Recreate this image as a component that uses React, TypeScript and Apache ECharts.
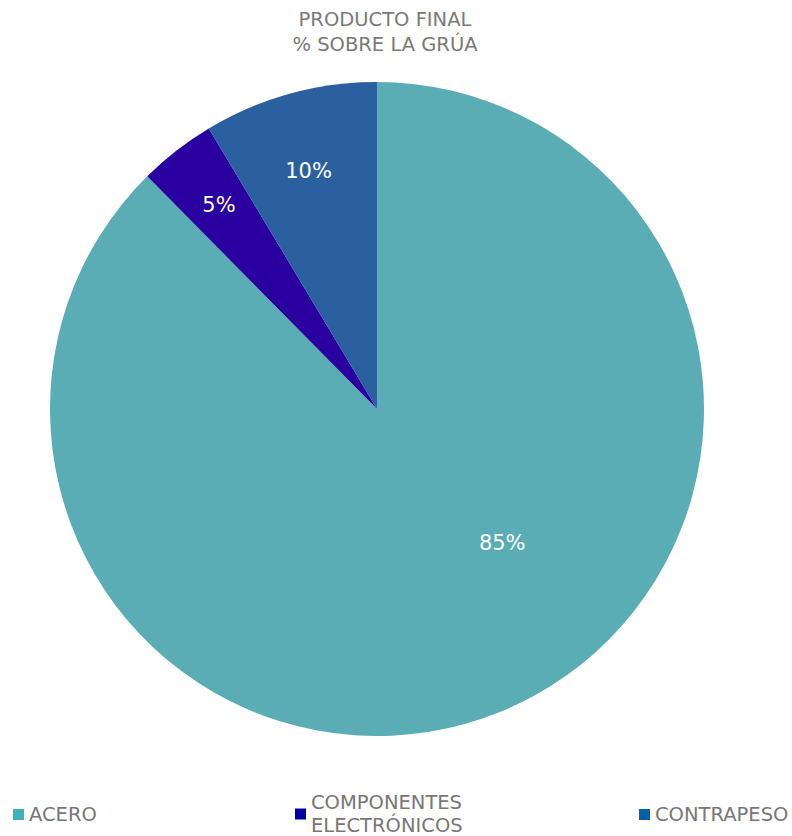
import React, { useEffect, useRef } from "react";
import * as echarts from "echarts";

const categories = ["ACERO", "COMPONENTES\nELECTRÓNICOS", "CONTRAPESO"];
const values = [87.6, 3.8, 8.6];
const labelTexts = ["85%", "5%", "10%"];
const sliceColors = ["#5AADB5", "#2A00A0", "#2A5FA0"];
const legendColors = ["#3BB3B8", "#0000A0", "#0062AA"];
const labelOffsets = [[62, -20], [-56, -72], [-24, -78]];
const legendLefts = [8, 290, 634];

export default function App() {
  const ref = useRef<HTMLDivElement>(null);
  useEffect(() => {
    if (!ref.current) return;
    const chart = echarts.init(ref.current, undefined, { renderer: "svg" });
    const font = "DejaVu Sans, sans-serif";
    chart.setOption({
      animation: false,
      title: {
        text: "PRODUCTO FINAL\n% SOBRE LA GRÚA",
        left: 380,
        textAlign: "center",
        top: 2,
        textStyle: {
          color: "#7a7a7a",
          fontSize: 19.5,
          fontWeight: "normal",
          fontFamily: font,
          lineHeight: 25,
        },
      },
      legend: categories.map((c, i) => ({
        left: legendLefts[i],
        top: i === 1 ? 786 : 798,
        itemWidth: 11,
        itemHeight: 11,
        icon: "rect",
        itemGap: 5,
        data: [{ name: c, itemStyle: { color: legendColors[i] } }],
        textStyle: {
          color: "#777",
          fontSize: 19.5,
          fontFamily: font,
          lineHeight: 23,
          align: i === 1 ? "center" : "left",
        },
        selectedMode: false,
      })),
      series: [
        {
          type: "pie",
          center: [377, 409],
          radius: 327,
          startAngle: 90,
          clockwise: true,
          data: categories.map((c, i) => ({
            name: c,
            value: values[i],
            itemStyle: { color: sliceColors[i] },
            label: { offset: labelOffsets[i] },
          })),
          label: {
            show: true,
            position: "inside",
            color: "#fff",
            fontSize: 21,
            fontFamily: font,
            formatter: (p: any) => labelTexts[p.dataIndex],
          },
          labelLine: { show: false },
          emphasis: { disabled: true },
        },
      ],
    });
    return () => chart.dispose();
  }, []);
  return <div ref={ref} style={{ width: 792, height: 836, position: "absolute", left: 0, top: 0 }} />;
}
